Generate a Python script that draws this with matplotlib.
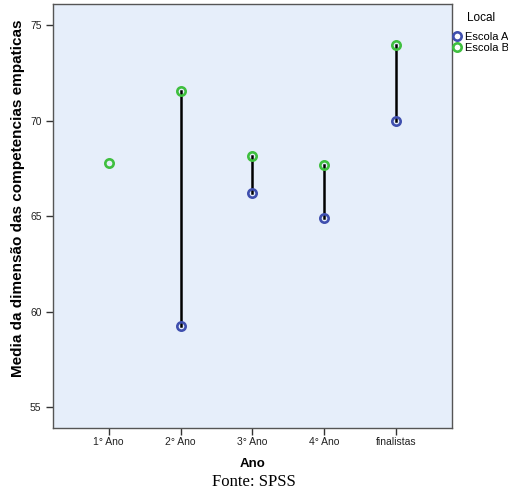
import matplotlib
matplotlib.use("Agg")
import matplotlib.pyplot as plt
from matplotlib.lines import Line2D

plt.rcParams['font.family'] = ['Liberation Sans', 'DejaVu Sans']

# categories and group means
anos = ['1° Ano', '2° Ano', '3° Ano', '4° Ano', 'finalistas']
escola_a = [None, 59.25, 66.2, 64.9, 70.0]
escola_b = [67.8, 71.55, 68.15, 67.65, 73.95]

cor_a = '#3f4fae'
cor_b = '#3fbf3f'

fig = plt.figure(figsize=(5.08, 5.03), dpi=100)
ax = fig.add_axes([0.105, 0.149, 0.785, 0.843])
ax.set_facecolor('#e6eefa')

x = list(range(len(anos)))

# drop lines between the two schools
for i in x:
    if escola_a[i] is not None and escola_b[i] is not None:
        ax.plot([i, i], [escola_a[i], escola_b[i]], color='black', lw=1.8, zorder=2)

xa = [i for i in x if escola_a[i] is not None]
ya = [escola_a[i] for i in xa]
ax.plot(xa, ya, 'o', ms=6, mfc='none', mec=cor_a, mew=1.9, zorder=3)
ax.plot(x, escola_b, 'o', ms=6, mfc='none', mec=cor_b, mew=1.9, zorder=3)

ax.set_xlim(-0.77, 4.78)
ax.set_ylim(53.9, 76.1)
ax.set_xticks(x)
ax.set_xticklabels(anos)
ax.set_yticks([55, 60, 65, 70, 75])
ax.tick_params(axis='both', direction='out', length=5, width=1, labelsize=7.5,
               color='#333333', labelcolor='#222222')
ax.tick_params(axis='x', pad=1.5)

for s in ax.spines.values():
    s.set_color('#555555')
    s.set_linewidth(1)

ax.set_xlabel('Ano', fontsize=9.5, fontweight='bold', labelpad=8)
fig.text(18 / 508, 1 - 198 / 503, 'Media da dimensão das competencias empaticas',
         rotation=90, ha='center', va='center', fontsize=11, fontweight='bold')

# legend outside on the right
handles = [Line2D([], [], ls='none', marker='o', ms=6, mfc='none', mec=cor_a, mew=1.9),
           Line2D([], [], ls='none', marker='o', ms=6, mfc='none', mec=cor_b, mew=1.9)]
fig.text(467 / 508, 1 - 18 / 503, 'Local', fontsize=8.5, va='center', ha='left')
leg = fig.legend(handles, ['Escola A', 'Escola B'], loc='upper left',
                 bbox_to_anchor=(452.5 / 508, 1 - 32 / 503), frameon=False,
                 fontsize=8, handlelength=0.8, handletextpad=0.33,
                 labelspacing=0.1, borderpad=0, borderaxespad=0)

fig.text(0.5, 1 - 482 / 503, 'Fonte: SPSS', fontsize=12, ha='center', va='center',
         family=['Liberation Serif', 'DejaVu Serif'])

fig.savefig('out.png', dpi=100)
